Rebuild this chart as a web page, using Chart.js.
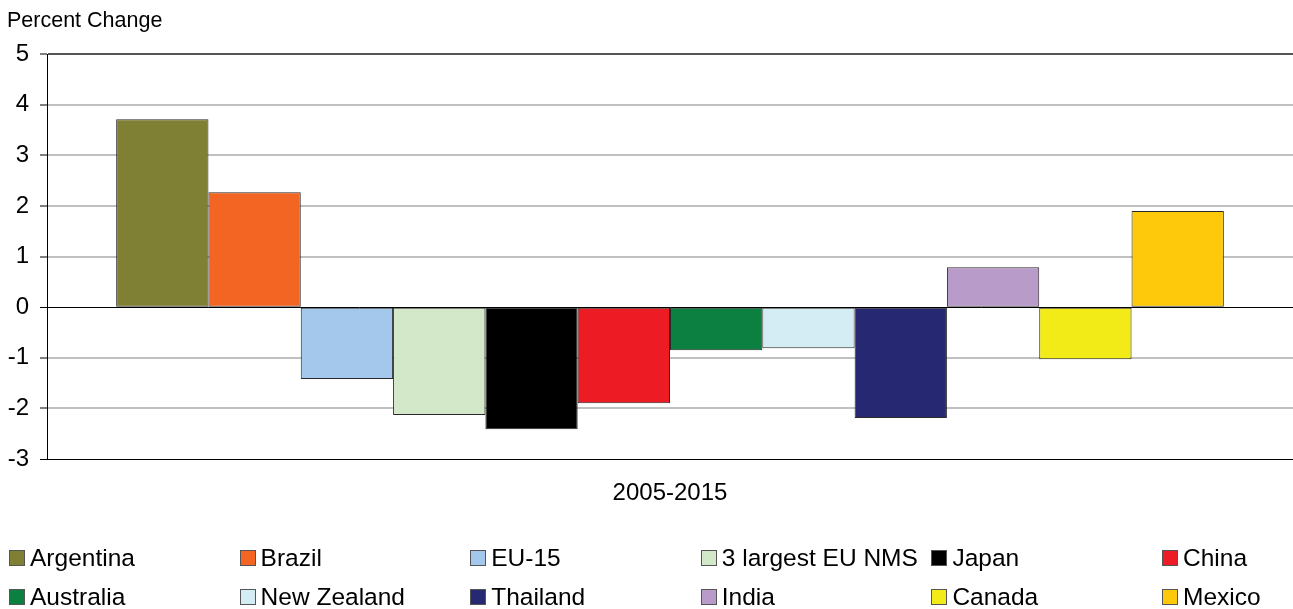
<!DOCTYPE html>
<html>
<head>
<meta charset="utf-8">
<script src="https://cdn.jsdelivr.net/npm/chart.js@4/dist/chart.umd.min.js"></script>
<style>
  html, body { margin: 0; padding: 0; background: #fff; }
  body { width: 1293px; height: 609px; position: relative; overflow: hidden; font-family: "Liberation Sans", Arial, sans-serif; }
  #wrap { position: absolute; left: 0; top: 0; width: 1293px; height: 520px; }
  #ytitle { position: absolute; left: 7px; top: 8px; font-size: 21.5px; color: #000; }
  #legend { position: absolute; left: 0; top: 0; width: 1293px; height: 609px; pointer-events: none; }
  .item { position: absolute; font-size: 24.5px; line-height: 24px; color: #000; white-space: nowrap; }
  .box { position: absolute; left: 0; top: 4px; width: 14px; height: 14px; border: 1px solid #555; }
  .lbl { position: absolute; left: 21px; top: 0; }
</style>
</head>
<body>
<div id="wrap"><canvas id="chart"></canvas></div>
<div id="ytitle">Percent Change</div>
<div id="legend"></div>
<script>
// categories and values
const periods = ['2005-2015'];
const regions = ['Argentina', 'Brazil', 'EU-15', '3 largest EU NMS', 'Japan', 'China',
                 'Australia', 'New Zealand', 'Thailand', 'India', 'Canada', 'Mexico'];
const changes = [3.71, 2.27, -1.42, -2.13, -2.41, -1.90, -0.85, -0.81, -2.19, 0.79, -1.03, 1.90];
const colors = ['#7f8033', '#f26522', '#a3c8ec', '#d3e8c8', '#000000', '#ed1c24',
                '#0b8040', '#d4edf4', '#262872', '#b89bc9', '#f2eb17', '#fdc90a'];
const yTicks = [-3, -2, -1, 0, 1, 2, 3, 4, 5];

const datasets = regions.map((name, i) => ({
  label: name,
  data: [changes[i]],
  backgroundColor: colors[i],
  borderColor: '#2a2a2a',
  borderWidth: 1,
  borderSkipped: false,
  categoryPercentage: 0.889,
  barPercentage: 1
}));

new Chart(document.getElementById('chart'), {
  type: 'bar',
  data: { labels: periods, datasets: datasets },
  options: {
    responsive: true,
    maintainAspectRatio: false,
    animation: false,
    layout: { padding: { top: 54, right: 0, left: 0, bottom: 0 } },
    plugins: {
      legend: { display: false },
      tooltip: { enabled: false }
    },
    scales: {
      x: {
        grid: { display: false, drawTicks: false },
        border: { display: true, color: '#000', width: 1 },
        ticks: { color: '#000', padding: 20, font: { family: 'Liberation Sans', size: 24 } },
        afterFit: s => { s.height = 61; }
      },
      y: {
        min: -3,
        max: 5,
        afterBuildTicks: s => { s.ticks = yTicks.map(v => ({ value: v })); },
        grid: {
          color: c => c.tick.value === 0 || c.tick.value === -3 ? '#000' : (c.tick.value === 5 ? '#555' : '#c0c0c0'),
          lineWidth: c => c.tick.value === 0 || c.tick.value === -3 ? 1 : 2,
          tickColor: '#000',
          tickWidth: 1,
          tickLength: 7
        },
        border: { display: true, color: '#000', width: 1 },
        ticks: { color: '#000', padding: 11, font: { family: 'Liberation Sans', size: 24 } },
        afterFit: s => { s.width = 47; }
      }
    }
  }
});

// legend laid out as a 2 x 6 grid
const legend = document.getElementById('legend');
regions.forEach((name, i) => {
  const col = i % 6, row = Math.floor(i / 6);
  const it = document.createElement('div');
  it.className = 'item';
  it.style.left = (9 + col * 230.6) + 'px';
  it.style.top = (546 + row * 39) + 'px';
  it.innerHTML = '<div class="box" style="background:' + colors[i] + '"></div><div class="lbl">' + name + '</div>';
  legend.appendChild(it);
});
</script>
</body>
</html>
